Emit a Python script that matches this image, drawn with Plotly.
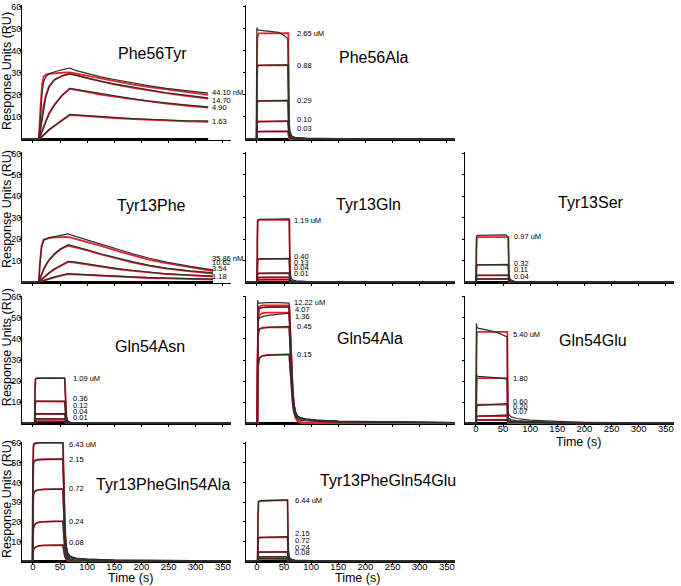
import plotly.graph_objects as go

# ------------------------------------------------------------------ data
# Phe56Tyr
PHE56TYR_T = [-20, 11, 14, 17, 20, 24, 30, 40, 55, 68, 80, 100, 125, 150, 185, 215, 246, 285, 323]
PHE56TYR_CONC = ["44.10 nM", "14.70", "4.90", "1.63"]
PHE56TYR_DATA = [
    [0, 0, 10, 21, 26, 28.3, 29.5, 30.5, 31.5, 32.2, 31.0, 29.6, 28.2, 27.0, 25.3, 24.1, 23.0, 21.9, 20.8],
    [0, 0, 4, 9, 14, 19, 23.5, 26.8, 28.7, 29.6, 28.9, 27.6, 26.2, 25.0, 23.5, 22.2, 21.0, 19.8, 18.7],
    [0, 0, 1.5, 3.5, 5.5, 8, 11.5, 15.5, 20, 23, 22.5, 21.5, 20.4, 19.4, 18.2, 17.2, 16.3, 15.4, 14.6],
    [0, 0, 0.5, 1.2, 2, 3, 4.2, 6, 8.8, 11.2, 11.0, 10.6, 10.2, 9.8, 9.3, 8.9, 8.6, 8.3, 8.2],
]
PHE56TYR_FIT = [
    [0, 0, 14, 25, 28.3, 29.2, 29.6, 29.9, 30.1, 30.2, 29.6, 28.6, 27.4, 26.2, 24.7, 23.5, 22.4, 21.2, 20.0],
    [0, 0, 5, 10.5, 15.5, 20, 24, 27, 28.8, 29.6, 29.0, 27.6, 26.1, 24.8, 23.2, 21.9, 20.8, 19.5, 18.3],
    [0, 0, 1.6, 3.7, 5.8, 8.3, 11.7, 15.7, 20.1, 22.8, 22.3, 21.3, 20.2, 19.2, 18.0, 17.0, 16.1, 15.1, 14.3],
    [0, 0, 0.5, 1.2, 2, 3, 4.2, 6, 8.7, 10.9, 10.7, 10.3, 9.9, 9.5, 9.0, 8.6, 8.3, 8.0, 7.8],
]

# Phe56Ala
PHE56ALA_T = [-20, -0.5, 0, 1, 3, 20, 40, 50, 57, 58, 59, 61, 64, 70, 90, 150, 365]
PHE56ALA_CONC = ["2.65 uM", "0.88", "0.29", "0.10", "0.03"]
PHE56ALA_DATA = [
    [0, 0, 50.5, 49.7, 49.4, 49.0, 48.4, 47.0, 45.5, 30.0, 10.0, 3.5, 1.5, 0.8, 0.4, 0.2, 0],
    [0, 0, 33.0, 33.3, 33.4, 33.5, 33.6, 33.6, 33.6, 22.0, 7.0, 2.5, 1.0, 0.6, 0.3, 0.1, 0],
    [0, 0, 16.5, 17.0, 17.2, 17.3, 17.4, 17.5, 17.5, 11.0, 4.0, 1.5, 0.6, 0.4, 0.2, 0.1, 0],
    [0, 0, 7.0, 7.6, 7.8, 8.0, 8.1, 8.2, 8.2, 5.5, 2.0, 0.8, 0.4, 0.2, 0.1, 0, 0],
    [0, 0, 3.0, 3.3, 3.4, 3.5, 3.5, 3.5, 3.5, 2.3, 0.9, 0.4, 0.2, 0.1, 0, 0, 0],
]
PHE56ALA_FIT = [
    [0, 0, 30, 46, 47.9, 48, 48, 48, 48, 48, 4, 0.4, 0, 0, 0, 0, 0],
    [0, 0, 22, 32.5, 33.4, 33.5, 33.5, 33.5, 33.5, 33.5, 3, 0.3, 0, 0, 0, 0, 0],
    [0, 0, 11, 16.8, 17.3, 17.4, 17.4, 17.4, 17.4, 17.4, 1.5, 0.2, 0, 0, 0, 0, 0],
    [0, 0, 5, 7.8, 8.0, 8.0, 8.0, 8.0, 8.0, 8.0, 0.8, 0.1, 0, 0, 0, 0, 0],
    [0, 0, 2, 3.3, 3.4, 3.5, 3.5, 3.5, 3.5, 3.5, 0.3, 0, 0, 0, 0, 0, 0],
]

# Tyr13Phe
TYR13PHE_T = [-20, 11, 13, 16, 20, 25, 30, 40, 52, 65, 80, 100, 124, 155, 185, 215, 246, 290, 332]
TYR13PHE_CONC = ["35.86 nM", "10.62", "3.54", "1.18"]
TYR13PHE_DATA = [
    [0, 0, 8, 16, 19.5, 20.3, 20.7, 21.2, 21.8, 22.5, 21.2, 19.6, 17.7, 15.3, 13.1, 11.1, 9.3, 7.3, 5.7],
    [0, 0, 1.5, 3.5, 6, 8.5, 10.5, 13.3, 15.6, 17.4, 16.5, 15.1, 13.2, 11.2, 9.4, 7.8, 6.5, 5.2, 4.3],
    [0, 0, 0.5, 1.2, 2.2, 3.3, 4.4, 6.2, 8.0, 9.7, 9.3, 8.5, 7.4, 6.3, 5.4, 4.6, 3.9, 3.3, 2.8],
    [0, 0, 0.2, 0.4, 0.8, 1.2, 1.6, 2.4, 3.2, 3.9, 3.7, 3.4, 3.1, 2.7, 2.4, 2.1, 1.9, 1.6, 1.4],
]
TYR13PHE_FIT = [
    [0, 0, 9, 17, 19.8, 20.3, 20.5, 20.8, 21.0, 21.1, 20.0, 18.7, 17.0, 14.5, 12.3, 10.4, 8.8, 6.8, 5.1],
    [0, 0, 1.5, 3.5, 6, 8.3, 10.2, 13, 15.4, 17.0, 16.2, 14.8, 13.0, 10.9, 9.1, 7.6, 6.3, 5.0, 4.0],
    [0, 0, 0.5, 1.2, 2.1, 3.2, 4.2, 6.0, 7.8, 9.4, 9.0, 8.2, 7.2, 6.1, 5.2, 4.4, 3.7, 3.1, 2.6],
    [0, 0, 0.2, 0.4, 0.7, 1.1, 1.5, 2.2, 3.0, 3.7, 3.5, 3.2, 2.9, 2.5, 2.2, 1.9, 1.7, 1.4, 1.2],
]

# Tyr13Gln
TYR13GLN_T = [-20, 0.5, 1, 2, 4, 20, 40, 55, 59.5, 60, 61, 63, 66, 72, 90, 150, 365]
TYR13GLN_CONC = ["1.19 uM", "0.40", "0.13", "0.04", "0.01"]
TYR13GLN_DATA = [
    [0, 0, 28.5, 29.0, 29.2, 29.3, 29.4, 29.5, 29.5, 20, 6, 2, 1, 0.6, 0.3, 0.1, 0],
    [0, 0, 10.0, 10.5, 10.7, 10.9, 11.0, 11.1, 11.1, 7, 2.2, 0.8, 0.4, 0.2, 0.1, 0, 0],
    [0, 0, 3.8, 4.0, 4.1, 4.2, 4.2, 4.3, 4.3, 2.8, 0.9, 0.3, 0.2, 0.1, 0, 0, 0],
    [0, 0, 2.0, 2.1, 2.2, 2.3, 2.3, 2.3, 2.3, 1.5, 0.5, 0.2, 0.1, 0, 0, 0, 0],
    [0, 0, 1.0, 1.1, 1.1, 1.2, 1.2, 1.2, 1.2, 0.8, 0.3, 0.1, 0, 0, 0, 0, 0],
]
TYR13GLN_FIT = [
    [0, 0, 20, 28.8, 29.0, 29.0, 29.0, 29.0, 29.0, 29.0, 2, 0.2, 0, 0, 0, 0, 0],
    [0, 0, 7, 10.6, 10.8, 10.8, 10.8, 10.8, 10.8, 10.8, 0.8, 0.1, 0, 0, 0, 0, 0],
    [0, 0, 3, 4.0, 4.1, 4.1, 4.1, 4.1, 4.1, 4.1, 0.3, 0, 0, 0, 0, 0, 0],
    [0, 0, 1.5, 2.0, 2.1, 2.1, 2.1, 2.1, 2.1, 2.1, 0.2, 0, 0, 0, 0, 0, 0],
    [0, 0, 0.8, 1.1, 1.1, 1.1, 1.1, 1.1, 1.1, 1.1, 0.1, 0, 0, 0, 0, 0, 0],
]

# Tyr13Ser
TYR13SER_T = [-20, 0.5, 1, 2, 4, 20, 40, 55, 59.5, 60, 61, 63, 66, 72, 90, 150, 365]
TYR13SER_CONC = ["0.97 uM", "0.32", "0.11", "0.04"]
TYR13SER_DATA = [
    [0, 0, 21, 21.7, 21.8, 21.8, 21.9, 22.0, 21.0, 14, 4, 1.5, 0.8, 0.4, 0.2, 0.1, 0],
    [0, 0, 7.5, 7.9, 8.0, 8.1, 8.2, 8.3, 8.3, 5.5, 1.6, 0.6, 0.3, 0.2, 0.1, 0, 0],
    [0, 0, 2.9, 3.0, 3.1, 3.1, 3.2, 3.3, 3.3, 2.2, 0.7, 0.3, 0.1, 0, 0, 0, 0],
    [0, 0, 1.4, 1.5, 1.5, 1.5, 1.5, 1.6, 1.6, 1.1, 0.3, 0.1, 0, 0, 0, 0, 0],
]
TYR13SER_FIT = [
    [0, 0, 14, 20.8, 21.0, 21.0, 21.0, 21.0, 21.0, 21.0, 1.5, 0.2, 0, 0, 0, 0, 0],
    [0, 0, 5.5, 7.9, 8.0, 8.0, 8.0, 8.0, 8.0, 8.0, 0.6, 0.1, 0, 0, 0, 0, 0],
    [0, 0, 2.2, 3.0, 3.1, 3.1, 3.1, 3.1, 3.1, 3.1, 0.2, 0, 0, 0, 0, 0, 0],
    [0, 0, 1.0, 1.4, 1.4, 1.4, 1.4, 1.4, 1.4, 1.4, 0.1, 0, 0, 0, 0, 0, 0],
]

# Gln54Asn
GLN54ASN_T = [-20, 3.5, 4, 5, 7, 20, 40, 55, 58.5, 59, 60, 62, 65, 70, 90, 150, 365]
GLN54ASN_CONC = ["1.09 uM", "0.36", "0.12", "0.04", "0.01"]
GLN54ASN_DATA = [
    [0, 0, 18, 21, 21.3, 21.4, 21.4, 21.3, 21.3, 17, 9, 3, 1, 0.3, 0.1, 0, 0],
    [0, 0, 8.5, 10.2, 10.4, 10.4, 10.5, 10.5, 10.5, 8.3, 4.4, 1.5, 0.5, 0.2, 0.1, 0, 0],
    [0, 0, 3.6, 4.3, 4.4, 4.4, 4.4, 4.5, 4.5, 3.6, 1.9, 0.6, 0.2, 0.1, 0, 0, 0],
    [0, 0, 1.6, 1.9, 2.0, 2.0, 2.0, 2.0, 2.0, 1.6, 0.8, 0.3, 0.1, 0, 0, 0, 0],
    [0, 0, 0.7, 0.9, 0.9, 0.9, 0.9, 0.9, 0.9, 0.7, 0.4, 0.1, 0, 0, 0, 0, 0],
]
GLN54ASN_FIT = [
    [0, 0, 15, 21, 21.4, 21.4, 21.4, 21.4, 21.4, 21.0, 10, 2, 0.3, 0, 0, 0, 0],
    [0, 0, 7, 10.2, 10.4, 10.4, 10.4, 10.4, 10.4, 10.2, 4.9, 1, 0.2, 0, 0, 0, 0],
    [0, 0, 3, 4.3, 4.4, 4.4, 4.4, 4.4, 4.4, 4.3, 2.1, 0.4, 0.1, 0, 0, 0, 0],
    [0, 0, 1.4, 1.9, 2.0, 2.0, 2.0, 2.0, 2.0, 1.9, 0.9, 0.2, 0, 0, 0, 0, 0],
    [0, 0, 0.6, 0.9, 0.9, 0.9, 0.9, 0.9, 0.9, 0.9, 0.4, 0.1, 0, 0, 0, 0, 0],
]

# Gln54Ala
GLN54ALA_T = [-20, 1, 1.5, 2.5, 5, 10, 20, 40, 59.5, 60, 62, 64, 66, 68, 71, 75, 80, 90, 110, 150, 365]
GLN54ALA_CONC = ["12.22 uM", "4.07", "1.36", "0.45", "0.15"]
GLN54ALA_DATA = [
    [0, 0, 58.5, 57.0, 57.0, 57.2, 57.3, 57.3, 57.0, 52, 38, 25, 15, 9.5, 5.5, 3.5, 2.6, 2.0, 1.5, 1.0, 0.3],
    [0, 0, 56, 54.5, 54.7, 54.9, 55.0, 55.1, 55.1, 50, 36.5, 24, 14.5, 9, 5.3, 3.3, 2.5, 1.9, 1.4, 0.9, 0.3],
    [0, 0, 50, 49.5, 50.0, 50.6, 51.2, 51.8, 52.3, 47.5, 34.5, 22.7, 13.7, 8.6, 5, 3.1, 2.3, 1.8, 1.3, 0.9, 0.3],
    [0, 0, 43, 44.0, 44.6, 45.1, 45.5, 45.9, 46.0, 42, 30.5, 20, 12, 7.5, 4.4, 2.8, 2.0, 1.6, 1.2, 0.8, 0.2],
    [0, 0, 27, 29.5, 31.0, 31.8, 32.3, 32.6, 32.8, 30, 21.7, 14.3, 8.6, 5.4, 3.1, 2.0, 1.4, 1.1, 0.8, 0.5, 0.2],
]
GLN54ALA_FIT = [
    [0, 0, 30, 52, 55.5, 56, 56, 56, 56, 54, 40, 26, 16, 9.5, 4.5, 1.5, 0.4, 0, 0, 0, 0],
    [0, 0, 29, 51, 54.5, 55, 55.2, 55.2, 55.2, 53, 39, 25.5, 15.5, 9.3, 4.4, 1.5, 0.4, 0, 0, 0, 0],
    [0, 0, 27, 48.5, 51.5, 52.3, 52.5, 52.5, 52.5, 50.5, 37, 24.2, 14.7, 8.8, 4.2, 1.4, 0.4, 0, 0, 0, 0],
    [0, 0, 23, 42, 44.8, 45.4, 45.5, 45.5, 45.5, 44, 32, 21, 12.8, 7.7, 3.6, 1.2, 0.3, 0, 0, 0, 0],
    [0, 0, 15, 27, 31.0, 32.0, 32.4, 32.5, 32.5, 31.5, 23, 15, 9.2, 5.5, 2.6, 0.9, 0.2, 0, 0, 0, 0],
]

# Gln54Glu
GLN54GLU_T = [-20, 0.5, 1, 2, 5, 20, 40, 55, 57.5, 58, 59, 61, 65, 75, 100, 150, 200, 365]
GLN54GLU_CONC = ["5.40 uM", "1.80", "0.60", "0.20", "0.07"]
GLN54GLU_DATA = [
    [0, 0, 47.5, 45.5, 45.0, 44.3, 43.0, 41.5, 41.0, 20, 6, 4, 3, 2.2, 1.4, 0.8, 0.4, 0],
    [0, 0, 23.5, 22.4, 22.2, 22.0, 21.5, 21.0, 20.8, 10, 3.2, 2.2, 1.6, 1.2, 0.8, 0.4, 0.2, 0],
    [0, 0, 8.0, 8.3, 8.4, 8.6, 8.9, 9.2, 9.3, 5, 2, 1.5, 1.1, 0.8, 0.5, 0.3, 0.1, 0],
    [0, 0, 3.2, 3.3, 3.4, 3.5, 3.6, 3.8, 3.9, 2.5, 1.3, 1.0, 0.8, 0.6, 0.4, 0.2, 0.1, 0],
    [0, 0, 1.5, 1.6, 1.6, 1.6, 1.7, 1.7, 1.7, 1.2, 0.7, 0.5, 0.4, 0.3, 0.2, 0.1, 0, 0],
]
GLN54GLU_FIT = [
    [0, 0, 30, 43.2, 43.4, 43.4, 43.4, 43.4, 43.4, 43.4, 1.0, 0.3, 0.1, 0, 0, 0, 0, 0],
    [0, 0, 15, 21.3, 21.4, 21.4, 21.4, 21.4, 21.4, 21.4, 0.5, 0.1, 0, 0, 0, 0, 0, 0],
    [0, 0, 6, 8.7, 8.8, 8.8, 8.8, 8.8, 8.8, 8.8, 0.3, 0, 0, 0, 0, 0, 0, 0],
    [0, 0, 2.2, 3.2, 3.3, 3.3, 3.3, 3.3, 3.3, 3.3, 0.1, 0, 0, 0, 0, 0, 0, 0],
    [0, 0, 1.0, 1.5, 1.5, 1.5, 1.5, 1.5, 1.5, 1.5, 0.05, 0, 0, 0, 0, 0, 0, 0],
]

# Tyr13PheGln54Ala
DM_ALA_T = [-20, -0.5, 0, 1, 3, 6, 10, 20, 40, 55.5, 56, 57, 59, 61, 64, 68, 72, 80, 100, 150, 365]
DM_ALA_CONC = ["6.43 uM", "2.15", "0.72", "0.24", "0.08"]
DM_ALA_DATA = [
    [0, 0, 45, 59.5, 60, 60.1, 60.2, 60.3, 60.3, 60.4, 50, 35, 18, 9, 4.5, 2.8, 2.2, 1.6, 1.1, 0.6, 0.2],
    [0, 0, 38, 50.5, 51, 51.3, 51.5, 51.8, 52, 52, 43, 30, 15, 7.5, 3.8, 2.4, 1.9, 1.4, 1.0, 0.5, 0.2],
    [0, 0, 25, 34.5, 35.5, 36, 36.3, 36.5, 36.6, 36.6, 30, 21, 11, 5.5, 2.8, 1.8, 1.4, 1.0, 0.7, 0.4, 0.1],
    [0, 0, 12, 17, 18.5, 19.3, 19.8, 20.1, 20.2, 20.2, 16.5, 11.5, 6, 3, 1.6, 1.0, 0.8, 0.6, 0.4, 0.2, 0],
    [0, 0, 4, 6, 6.8, 7.4, 7.8, 8.1, 8.2, 8.2, 6.7, 4.7, 2.4, 1.2, 0.7, 0.4, 0.3, 0.2, 0.1, 0, 0],
]
DM_ALA_FIT = [
    [0, 0, 40, 58, 59.7, 60, 60.1, 60.2, 60.3, 60.3, 55, 38, 18, 8, 2.5, 0.6, 0.1, 0, 0, 0, 0],
    [0, 0, 34, 49.5, 51, 51.5, 51.7, 51.8, 51.9, 51.9, 47, 33, 15.5, 7, 2.2, 0.5, 0.1, 0, 0, 0, 0],
    [0, 0, 22, 33.5, 35.3, 35.9, 36.2, 36.5, 36.6, 36.6, 33, 23, 11, 5, 1.6, 0.4, 0.1, 0, 0, 0, 0],
    [0, 0, 10, 16.5, 18.3, 19.2, 19.7, 20.0, 20.2, 20.2, 18.2, 12.8, 6, 2.8, 0.9, 0.2, 0, 0, 0, 0, 0],
    [0, 0, 3.5, 5.8, 6.7, 7.3, 7.7, 8.0, 8.2, 8.2, 7.4, 5.2, 2.4, 1.1, 0.4, 0.1, 0, 0, 0, 0, 0],
]

# Tyr13PheGln54Glu
DM_GLU_T = [-20, 1.5, 2, 3, 6, 20, 40, 56.5, 57, 58, 60, 64, 70, 100, 365]
DM_GLU_CONC = ["6.44 uM", "2.15", "0.72", "0.24", "0.08"]
DM_GLU_DATA = [
    [0, 0, 22, 30.3, 30.8, 31.0, 31.2, 31.2, 20, 6, 2, 1, 0.6, 0.3, 0],
    [0, 0, 9, 11.8, 12.0, 12.2, 12.4, 12.5, 8, 2.5, 0.9, 0.5, 0.3, 0.1, 0],
    [0, 0, 3.5, 4.5, 4.6, 4.7, 4.8, 4.8, 3.2, 1, 0.4, 0.2, 0.1, 0, 0],
    [0, 0, 1.6, 2.1, 2.2, 2.2, 2.3, 2.3, 1.5, 0.5, 0.2, 0.1, 0, 0, 0],
    [0, 0, 1.0, 1.2, 1.3, 1.3, 1.3, 1.3, 0.9, 0.3, 0.1, 0, 0, 0, 0],
]
DM_GLU_FIT = [
    [0, 0, 20, 30.0, 30.6, 30.8, 30.9, 30.9, 25, 3, 0.3, 0, 0, 0, 0],
    [0, 0, 8, 11.8, 12.1, 12.2, 12.2, 12.2, 10, 1.2, 0.1, 0, 0, 0, 0],
    [0, 0, 3, 4.5, 4.6, 4.7, 4.7, 4.7, 3.8, 0.5, 0, 0, 0, 0, 0],
    [0, 0, 1.4, 2.1, 2.2, 2.2, 2.2, 2.2, 1.8, 0.2, 0, 0, 0, 0, 0],
    [0, 0, 0.8, 1.2, 1.3, 1.3, 1.3, 1.3, 1.0, 0.1, 0, 0, 0, 0, 0],
]

PANEL_NAMES = ["Phe56Tyr", "Phe56Ala", "Tyr13Phe", "Tyr13Gln", "Tyr13Ser",
               "Gln54Asn", "Gln54Ala", "Gln54Glu", "Tyr13PheGln54Ala", "Tyr13PheGln54Glu"]
BLANK_END = [323, 362, 332, 362, 362, 362, 362, 362, 362, 362]
Y_TICKS = [10, 20, 30, 40, 50, 60]

# ------------------------------------------------------------------ layout
W, H = 681, 586
XR = [-20, 365]
YR = [-0.6, 60.6]
COL_PX = {1: (22, 231), 2: (246, 455), 3: (465, 674)}
ROW_PX = {1: (1.4, 137.3), 2: (149.1, 281.3), 3: (293.6, 423.3), 4: (441.0, 562.2)}
NARROW = "Liberation Sans Narrow, Arial Narrow, Liberation Sans, Arial, sans-serif"
ARIAL = "Liberation Sans, Arial, sans-serif"
RED = "#e8202a"
DARK = "#2e2e2e"

panels = [
    dict(row=1, col=1, t=PHE56TYR_T, data=PHE56TYR_DATA, fit=PHE56TYR_FIT, conc=PHE56TYR_CONC,
         lx=[326] * 4, ly=[21.0, 17.4, 14.1, 8.1], tx=221, ty=38.7),
    dict(row=1, col=2, t=PHE56ALA_T, data=PHE56ALA_DATA, fit=PHE56ALA_FIT, conc=PHE56ALA_CONC,
         lx=[71] * 5, ly=[47.7, 33.3, 17.3, 8.7, 4.8], tx=214, ty=37.2),
    dict(row=2, col=1, t=TYR13PHE_T, data=TYR13PHE_DATA, fit=TYR13PHE_FIT, conc=TYR13PHE_CONC,
         lx=[327] * 4, ly=[11.1, 9.3, 6.2, 2.6], tx=219, ty=35.5),
    dict(row=2, col=2, t=TYR13GLN_T, data=TYR13GLN_DATA, fit=TYR13GLN_FIT, conc=TYR13GLN_CONC,
         lx=[64] * 5, ly=[28.9, 11.9, 9.3, 6.6, 3.9], tx=205, ty=36.3),
    dict(row=2, col=3, t=TYR13SER_T, data=TYR13SER_DATA, fit=TYR13SER_FIT, conc=TYR13SER_CONC,
         lx=[67] * 4, ly=[21.1, 8.8, 5.7, 2.8], tx=213, ty=37.0),
    dict(row=3, col=1, t=GLN54ASN_T, data=GLN54ASN_DATA, fit=GLN54ASN_FIT, conc=GLN54ASN_CONC,
         lx=[71] * 5, ly=[21.1, 11.5, 8.5, 5.3, 2.5], tx=216, ty=36.3),
    dict(row=3, col=2, t=GLN54ALA_T, data=GLN54ALA_DATA, fit=GLN54ALA_FIT, conc=GLN54ALA_CONC,
         lx=[64, 67, 67, 70, 70], ly=[57.5, 54.1, 50.9, 45.8, 32.4], tx=208, ty=40.2),
    dict(row=3, col=3, t=GLN54GLU_T, data=GLN54GLU_DATA, fit=GLN54GLU_FIT, conc=GLN54GLU_CONC,
         lx=[65] * 5, ly=[42.1, 21.4, 10.4, 8.0, 5.3], tx=215, ty=39.5),
    dict(row=4, col=1, t=DM_ALA_T, data=DM_ALA_DATA, fit=DM_ALA_FIT, conc=DM_ALA_CONC,
         lx=[62] * 5, ly=[59.4, 51.9, 37.2, 20.4, 9.3], tx=240, ty=39.2),
    dict(row=4, col=2, t=DM_GLU_T, data=DM_GLU_DATA, fit=DM_GLU_FIT, conc=DM_GLU_CONC,
         lx=[66] * 5, ly=[30.8, 14.0, 10.6, 7.2, 4.2], tx=242, ty=40.9),
]
BOTTOM = {8, 9, 10}

fig = go.Figure()
annotations = []
layout = dict(width=W, height=H, margin=dict(l=0, r=0, t=0, b=0, pad=0),
              paper_bgcolor="white", plot_bgcolor="white", showlegend=False)

for i, p in enumerate(panels, 1):
    suf = "" if i == 1 else str(i)
    xa, ya = "x" + suf, "y" + suf
    c0, c1 = COL_PX[p["col"]]
    r0, r1 = ROW_PX[p["row"]]
    bottom = i in BOTTOM
    layout["xaxis" + suf] = dict(
        domain=[c0 / W, c1 / W], range=XR, anchor=ya, showline=True, linecolor="black",
        linewidth=1, ticks="outside", ticklen=2, tickcolor="black", tickwidth=1,
        tick0=0, dtick=50, showticklabels=bottom, showgrid=False, zeroline=False,
        ticklabelstandoff=-7,
        tickfont=dict(family=NARROW, size=9.5, color="black"))
    layout["yaxis" + suf] = dict(
        domain=[1 - r1 / H, 1 - r0 / H], range=YR, anchor=xa, showline=True, linecolor="black",
        linewidth=1, ticks="outside", ticklen=2, tickcolor="black", tickwidth=1,
        tickvals=Y_TICKS, showticklabels=(p["col"] == 1), showgrid=False, zeroline=False,
        ticklabelstandoff=-4,
        tickfont=dict(family=NARROW, size=9, color="black"))
    # blank (buffer) injection
    fig.add_trace(go.Scatter(x=[XR[0], BLANK_END[i - 1]], y=[0, 0], mode="lines",
                             line=dict(color="black", width=2.2), xaxis=xa, yaxis=ya,
                             hoverinfo="skip"))
    for f in p["fit"]:
        fig.add_trace(go.Scatter(x=p["t"], y=f, mode="lines", line=dict(color=RED, width=1.8),
                                 xaxis=xa, yaxis=ya, hoverinfo="skip"))
    for d in p["data"]:
        fig.add_trace(go.Scatter(x=p["t"], y=d, mode="lines", line=dict(color=DARK, width=1.2),
                                 xaxis=xa, yaxis=ya, hoverinfo="skip"))
    for txt, lx, ly in zip(p["conc"], p["lx"], p["ly"]):
        annotations.append(dict(x=lx, y=ly, xref=xa, yref=ya, text=txt, showarrow=False,
                                xanchor="left", yanchor="middle",
                                font=dict(family=NARROW, size=7.5, color="black")))
    annotations.append(dict(x=p["tx"], y=p["ty"], xref=xa, yref=ya, text=PANEL_NAMES[i - 1],
                            showarrow=False, xanchor="center", yanchor="middle",
                            font=dict(family=NARROW, size=16, color="black")))

# y-axis titles (column 1)
for cy in [68, 207, 346, 499]:
    annotations.append(dict(x=6.5 / W, y=1 - cy / H, xref="paper", yref="paper",
                            text="Response Units (RU)", textangle=-90, showarrow=False,
                            xanchor="center", yanchor="middle",
                            font=dict(family=ARIAL, size=12.5, color="black")))
# x-axis titles
for cx, cy in [(130, 578), (357, 578), (578, 441)]:
    annotations.append(dict(x=cx / W, y=1 - cy / H, xref="paper", yref="paper",
                            text="Time (s)", showarrow=False, xanchor="center", yanchor="middle",
                            font=dict(family=NARROW, size=12.5, color="black")))

layout["annotations"] = annotations
fig.update_layout(**layout)
fig.write_html("out.html", config={"displayModeBar": False},
               post_script="document.body.style.margin='0px';")
